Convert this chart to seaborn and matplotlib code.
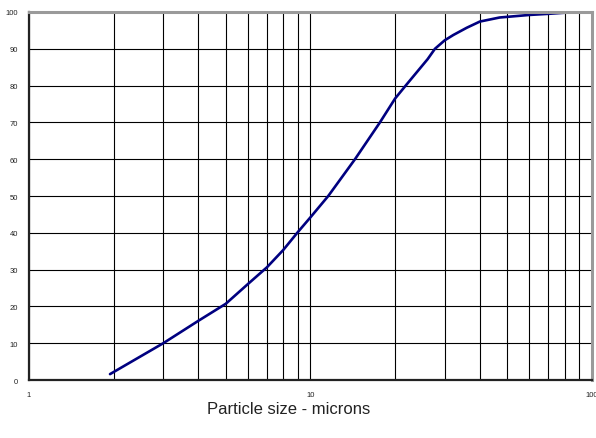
import numpy as np
import pandas as pd
import seaborn as sns
import matplotlib.pyplot as plt
from matplotlib.ticker import LogLocator, NullFormatter, FixedLocator

# Cumulative percentage passing vs particle size
size_um = [1.94, 3, 4, 5, 6, 7, 8, 9, 10, 11.57, 14.4, 17.66, 20, 21.8, 26.1,
           27.7, 30, 32.2, 35.9, 40, 47, 60, 70, 80, 92]
pct_passing = [1.6, 10, 16.1, 20.7, 26.1, 30.6, 35.3, 40.1, 44.2, 50, 60, 70,
               76.5, 80, 87.2, 90, 92.3, 93.75, 95.7, 97.4, 98.5, 99.2, 99.5,
               99.8, 100]
y_ticks = list(range(0, 101, 10))
x_ticks = [1, 10, 100]
x_label = "Particle size - microns"

df = pd.DataFrame({"size": size_um, "pct": pct_passing})

sns.set_style("white")
plt.rcParams['font.family'] = ['Liberation Sans', 'DejaVu Sans']

fig = plt.figure(figsize=(5.96, 4.39), dpi=100)
ax = fig.add_axes([0.0487, 0.1321, 0.9443, 0.8383])

sns.lineplot(data=df, x="size", y="pct", ax=ax, color="#000080",
             linewidth=1.9, sort=False)

ax.set_xscale("log")
ax.set_xlim(1, 100)
ax.set_ylim(0, 100)
ax.xaxis.set_major_locator(FixedLocator(x_ticks))
ax.set_xticklabels([str(t) for t in x_ticks])
ax.xaxis.set_minor_locator(LogLocator(base=10, subs=np.arange(2, 10)))
ax.xaxis.set_minor_formatter(NullFormatter())
ax.set_yticks(y_ticks)

ax.grid(True, which="both", axis="x", color="black", linewidth=0.8)
ax.grid(True, which="major", axis="y", color="black", linewidth=0.8)
ax.set_axisbelow(True)

ax.tick_params(axis="both", which="major", labelsize=5.5, length=3,
               width=0.8, color="black", direction="out", pad=5,
               labelcolor="#222222")
ax.tick_params(axis="x", which="minor", length=0)

for side in ["left", "bottom"]:
    ax.spines[side].set_color("#222222")
    ax.spines[side].set_linewidth(1.6)
for side in ["top", "right"]:
    ax.spines[side].set_color("#9a9a9a")
    ax.spines[side].set_linewidth(2.2)

ax.set_xlabel("")
ax.set_ylabel("")
fig.text(289 / 596, 1 - 410 / 439, x_label, ha="center", va="center",
         fontsize=12, color="#222222")

fig.savefig("out.png", dpi=100)
